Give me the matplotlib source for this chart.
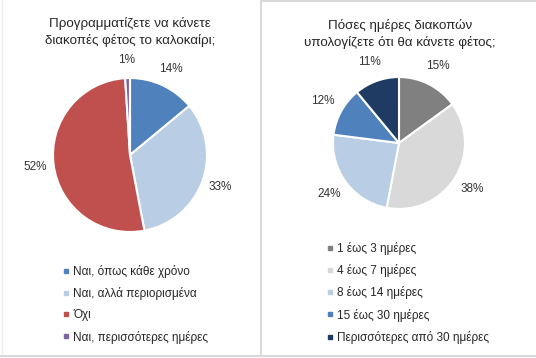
import matplotlib
matplotlib.use("Agg")
import matplotlib.pyplot as plt
from matplotlib.lines import Line2D

plt.rcParams['font.family'] = ['Liberation Sans', 'DejaVu Sans']

# left chart
left_title = "Προγραμματίζετε να κάνετε\nδιακοπές φέτος το καλοκαίρι;"
left_labels = ["Ναι, όπως κάθε χρόνο", "Ναι, αλλά περιορισμένα", "Όχι", "Ναι, περισσότερες ημέρες"]
left_values = [14, 33, 52, 1]
left_colors = ["#4F81BD", "#B9CDE5", "#C0504D", "#8064A2"]

# right chart
right_title = "Πόσες ημέρες διακοπών\nυπολογίζετε ότι θα κάνετε φέτος;"
right_labels = ["1 έως 3 ημέρες", "4 έως 7 ημέρες", "8 έως 14 ημέρες", "15 έως 30 ημέρες", "Περισσότερες από 30 ημέρες"]
right_values = [15, 38, 24, 12, 11]
right_colors = ["#808080", "#D9D9D9", "#B9CDE5", "#4F81BD", "#1F3A63"]

W, H = 536, 358
fig = plt.figure(figsize=(W / 100, H / 100), dpi=100)
fig.patch.set_facecolor("white")


def px_axes(cx, cy, r):
    pad = 1.03
    w = 2 * r * pad
    return fig.add_axes([(cx - w / 2) / W, 1 - (cy + w / 2) / H, w / W, w / H])


def draw_pie(ax, values, colors, ldist):
    ax.pie(values, colors=colors, startangle=90, counterclock=False,
           autopct=lambda p: "%d%%" % round(p), pctdistance=ldist,
           wedgeprops=dict(edgecolor="white", linewidth=1.5),
           textprops=dict(fontsize=8.5, color="#333333"))
    ax.set_xlim(-1.03, 1.03)
    ax.set_ylim(-1.03, 1.03)
    ax.set_aspect("equal")
    ax.axis("off")


ax1 = px_axes(130, 155, 77)
draw_pie(ax1, left_values, left_colors, 1.24)
ax2 = px_axes(399, 143, 66)
draw_pie(ax2, right_values, right_colors, 1.31)

fig.text(130 / W, 1 - 32 / H, left_title, ha="center", va="center", fontsize=9.6,
         color="#262626", linespacing=1.35)
fig.text(400 / W, 1 - 34 / H, right_title, ha="center", va="center", fontsize=9.6,
         color="#262626", linespacing=1.35)


def add_legend(labels, colors, x, y):
    handles = [Line2D([], [], marker="s", linestyle="none", markersize=3.2,
                      markerfacecolor=c, markeredgecolor=c) for c in colors]
    fig.legend(handles, labels, loc="upper left", bbox_to_anchor=(x / W, 1 - y / H),
               frameon=False, fontsize=8.5, handlelength=0.6, handletextpad=0.35,
               labelspacing=0.78, borderaxespad=0, borderpad=0, labelcolor="#262626")


add_legend(left_labels, left_colors, 62, 265)
add_legend(right_labels, right_colors, 326, 242)

# panel borders
border = "#D9D9D9"
fig.add_artist(Line2D([2 / W, 2 / W], [1 - 356 / H, 1], color="#EEEEEE", lw=1))
fig.add_artist(Line2D([261 / W, 261 / W], [1 - 356 / H, 1], color=border, lw=1.5))
fig.add_artist(Line2D([0, 1], [1 - 356 / H, 1 - 356 / H], color=border, lw=1.5))
fig.add_artist(Line2D([261 / W, 1], [1 - 1 / H, 1 - 1 / H], color=border, lw=1.5))

fig.savefig("out.png", dpi=100)
